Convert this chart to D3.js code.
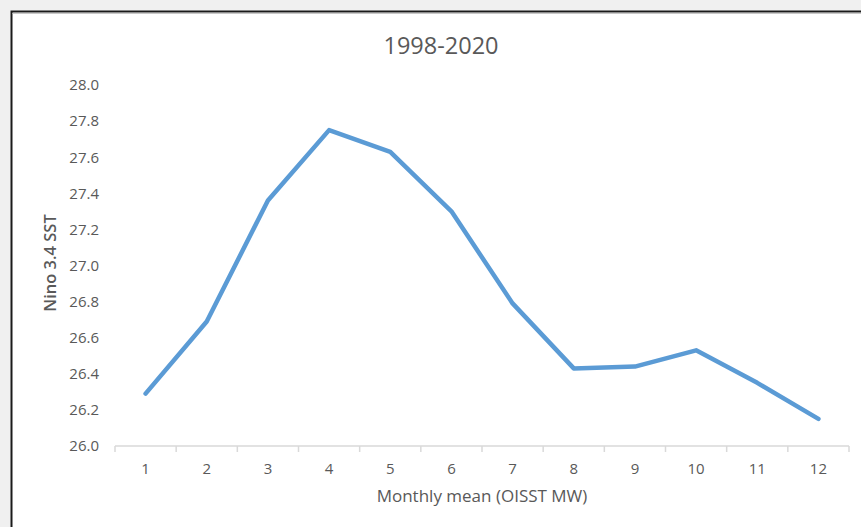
<!DOCTYPE html>
<html>
<head>
<meta charset="utf-8">
<script src="https://cdn.jsdelivr.net/npm/d3@7"></script>
<style>
  body { margin: 0; background: #f0f0f0; }
  svg { display: block; font-family: "Open Sans", sans-serif; }
</style>
</head>
<body>
<svg width="861" height="527"></svg>
<script>
    const months = ["1", "2", "3", "4", "5", "6", "7", "8", "9", "10", "11", "12"];
    const sst = [26.29, 26.69, 27.36, 27.75, 27.63, 27.30, 26.79, 26.43, 26.44, 26.53, 26.35, 26.15];
    const yTicks = [26.0, 26.2, 26.4, 26.6, 26.8, 27.0, 27.2, 27.4, 27.6, 27.8, 28.0];
    const title = "1998-2020";
    const xTitle = "Monthly mean (OISST MW)";
    const yTitle = "Nino 3.4 SST";

    const svg = d3.select("svg");
    const textColor = "#595959";

    // chart area frame (only top/left edges visible in window)
    svg.append("rect")
        .attr("x", 11.5).attr("y", 11.5)
        .attr("width", 900).attr("height", 600)
        .attr("fill", "#fff")
        .attr("stroke", "#1a1a1a")
        .attr("stroke-width", 2);
    svg.append("line")
        .attr("x1", 12.5).attr("x2", 861)
        .attr("y1", 13.5).attr("y2", 13.5)
        .attr("stroke", "#c8c8c8").attr("stroke-width", 1);

    const x = d3.scaleBand().domain(months).range([115, 849]);
    const y = d3.scaleLinear().domain([26, 28]).range([446, 85]);

    // y axis labels (no line)
    const yAxis = d3.axisLeft(y).tickValues(yTicks).tickFormat(d3.format(".1f")).tickSize(0).tickPadding(16);
    const yg = svg.append("g").attr("transform", "translate(115,0)").call(yAxis);
    yg.select(".domain").remove();
    yg.selectAll("text").attr("fill", textColor).attr("font-size", 15).attr("font-family", "Open Sans");

    // x axis with ticks at category boundaries
    const xg = svg.append("g").attr("transform", "translate(0,446)");
    xg.append("line")
        .attr("x1", 115).attr("x2", 849)
        .attr("stroke", "#d9d9d9").attr("stroke-width", 1.5);
    xg.selectAll(".tk")
        .data(months.concat(["end"]))
        .enter().append("line")
        .attr("x1", (d, i) => i < months.length ? x(d) : x.range()[1])
        .attr("x2", (d, i) => i < months.length ? x(d) : x.range()[1])
        .attr("y1", 0).attr("y2", 6)
        .attr("stroke", "#d9d9d9").attr("stroke-width", 1.5);
    xg.selectAll(".lbl")
        .data(months)
        .enter().append("text")
        .attr("x", d => x(d) + x.bandwidth() / 2)
        .attr("y", 28)
        .attr("text-anchor", "middle")
        .attr("fill", textColor)
        .attr("font-size", 15)
        .text(d => d);

    // data line
    svg.append("path")
        .datum(sst)
        .attr("fill", "none")
        .attr("stroke", "#5b9bd5")
        .attr("stroke-width", 4.5)
        .attr("stroke-linejoin", "round")
        .attr("stroke-linecap", "round")
        .attr("d", d3.line()
            .x((d, i) => x(months[i]) + x.bandwidth() / 2)
            .y(d => y(d)));

    // titles
    svg.append("text")
        .attr("x", 441).attr("y", 54)
        .attr("text-anchor", "middle")
        .attr("fill", textColor)
        .attr("font-size", 23.5)
        .text(title);
    svg.append("text")
        .attr("x", 482).attr("y", 502)
        .attr("text-anchor", "middle")
        .attr("fill", textColor)
        .attr("font-size", 17)
        .text(xTitle);
    svg.append("text")
        .attr("transform", "translate(56,263) rotate(-90)")
        .attr("text-anchor", "middle")
        .attr("fill", textColor)
        .attr("font-size", 16.5)
        .attr("font-weight", 600)
        .text(yTitle);
</script>
</body>
</html>
